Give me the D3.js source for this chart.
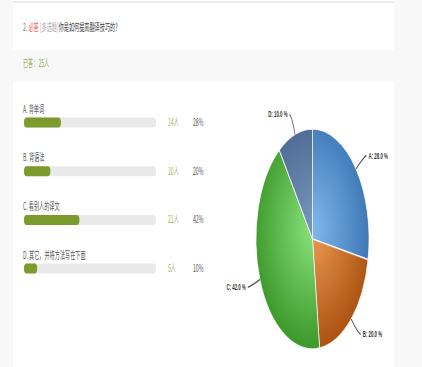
<!DOCTYPE html>
<html><head><meta charset="utf-8">
<script src="https://cdn.jsdelivr.net/npm/d3@7"></script>
<style>html,body{margin:0;padding:0;background:#fff;overflow:hidden}svg{display:block}</style>
</head><body>
<script>
const categories = ["A. 背单词", "B. 背语法", "C. 看别人的译文", "D. 其它，并将方法写在下面"];
const pieLabels = ["A", "B", "C", "D"];
const counts = [14, 10, 21, 5];
const percents = [28, 20, 42, 10];
const totalAnswered = 25;
const colors = [
  ["#80b9ec", "#3b75b4"],
  ["#ec9c55", "#ad5412"],
  ["#88e27c", "#3f9a2c"],
  ["#7895bd", "#4b6892"]
];

const W = 422, H = 367, sx = 0.514;
const ix = px => px / sx;

const svg = d3.select("body").append("svg").attr("width", W).attr("height", H);
const defs = svg.append("defs");

// background
svg.append("rect").attr("x", 0).attr("y", 0).attr("width", W).attr("height", H).attr("fill", "#fff");
svg.append("rect").attr("x", 0).attr("y", 0).attr("width", 13).attr("height", H).attr("fill", "#f8f8f8");
svg.append("rect").attr("x", 394).attr("y", 0).attr("width", W - 394).attr("height", H).attr("fill", "#f8f8f8");
svg.append("rect").attr("x", 13).attr("y", 1).attr("width", 381).attr("height", 2).attr("fill", "#ececec");
svg.append("rect").attr("x", 13).attr("y", 50).attr("width", 381).attr("height", 31).attr("fill", "#f8f8f8");

const g = svg.append("g").attr("transform", `scale(${sx},1)`);
const font = "'Noto Sans CJK SC','Noto Sans',sans-serif";

// title
const title = g.append("text").attr("x", ix(23)).attr("y", 31.5)
  .attr("font-family", font).attr("font-size", 10);
title.append("tspan").attr("fill", "#777").text("2. ");
title.append("tspan").attr("fill", "#f0625a").text("必答");
title.append("tspan").attr("fill", "#aaa").text(" [多选题]");
title.append("tspan").attr("fill", "#444").text("你是如何提高翻译技巧的?");

g.append("text").attr("x", ix(23)).attr("y", 67.5)
  .attr("font-family", font).attr("font-size", 10).attr("fill", "#93b04e")
  .text(`已答：${totalAnswered}人`);

// bars
const barX = ix(24), barW = ix(156) - ix(24), barH = 10;
const xs = d3.scaleLinear().domain([0, 100]).range([0, barW]);
const ys = d3.scaleLinear().domain([0, 3]).range([109, 109 + 3 * 48.7]);

const rows = g.selectAll("g.row").data(categories).join("g").attr("class", "row");
rows.append("text").attr("x", ix(23)).attr("y", (d, i) => ys(i) + 3.6)
  .attr("font-family", font).attr("font-size", 10).attr("fill", "#555").text(d => d);
rows.append("rect").attr("x", barX).attr("y", (d, i) => ys(i) + 8.5)
  .attr("width", barW).attr("height", barH).attr("rx", 5).attr("ry", 5).attr("fill", "#e9e9e9");
rows.append("rect").attr("x", barX).attr("y", (d, i) => ys(i) + 8.5)
  .attr("width", (d, i) => xs(percents[i])).attr("height", barH).attr("rx", 5).attr("ry", 5).attr("fill", "#7b9c2d");
rows.append("text").attr("x", ix(168)).attr("y", (d, i) => ys(i) + 17)
  .attr("font-family", font).attr("font-size", 10).attr("fill", "#9bb65a").text((d, i) => counts[i] + "人");
rows.append("text").attr("x", ix(193)).attr("y", (d, i) => ys(i) + 17)
  .attr("font-family", font).attr("font-size", 10).attr("fill", "#555").text((d, i) => percents[i] + "%");

// pie
const R = 110;
const pg = g.append("g").attr("transform", `translate(${ix(312.5)},239)`);
colors.forEach((c, i) => {
  const gr = defs.append("radialGradient").attr("id", "pg" + i)
    .attr("gradientUnits", "userSpaceOnUse").attr("cx", 0).attr("cy", -10).attr("r", R * 1.05);
  gr.append("stop").attr("offset", 0).attr("stop-color", c[0]);
  gr.append("stop").attr("offset", 1).attr("stop-color", c[1]);
});
const pie = d3.pie().sort(null).value(d => d)(percents);
const arc = d3.arc().innerRadius(0).outerRadius(R);
pg.selectAll("path.slice").data(pie).join("path").attr("class", "slice")
  .attr("d", arc).attr("fill", (d, i) => `url(#pg${i})`)
  .attr("stroke", "#fff").attr("stroke-width", 1.6).attr("stroke-opacity", 0.8);

const lblR = 131;
pie.forEach((d, i) => {
  const a = (d.startAngle + d.endAngle) / 2;
  const p = r => [Math.sin(a) * r, -Math.cos(a) * r];
  const p1 = p(R), p2 = p(lblR - 4), p3 = p(lblR);
  const right = Math.sin(a) >= 0;
  pg.append("path")
    .attr("d", `M${p1[0]},${p1[1]}Q${p2[0]},${p2[1]} ${p3[0] + (right ? 4 : -4)},${p3[1]}`)
    .attr("fill", "none").attr("stroke", "#555").attr("stroke-width", 1.4);
  pg.append("text").attr("x", p3[0] + (right ? 8 : -8)).attr("y", p3[1] + 3)
    .attr("text-anchor", right ? "start" : "end")
    .attr("font-family", "'Liberation Sans Narrow','Liberation Sans',sans-serif").attr("font-weight", "bold")
    .attr("font-size", 8.5).attr("fill", "#333")
    .text(`${pieLabels[i]}: ${percents[i].toFixed(1)} %`);
});
</script>
</body></html>
